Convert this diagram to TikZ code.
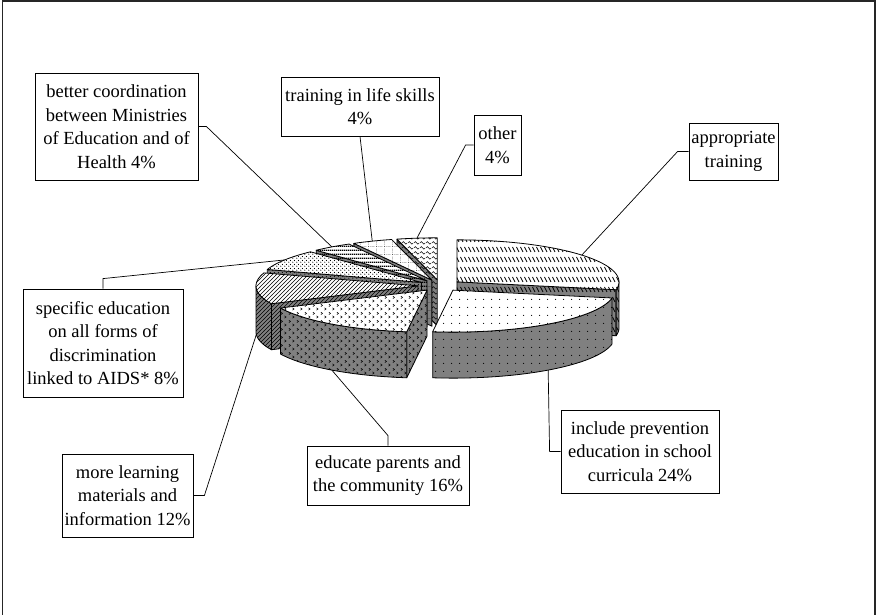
\documentclass[tikz,border=0pt]{standalone}
\usepackage{fontspec}
\setmainfont{Liberation Serif}
\usetikzlibrary{patterns}
\definecolor{piegray}{RGB}{128,128,128}

\pgfdeclarepatternformonly{atdash}{\pgfqpoint{-1pt}{-1pt}}{\pgfqpoint{5pt}{11pt}}{\pgfqpoint{4pt}{10pt}}{%
  \pgfsetlinewidth{0.7pt}%
  \pgfpathmoveto{\pgfqpoint{0.5pt}{8pt}}\pgfpathlineto{\pgfqpoint{3pt}{3pt}}%
  \pgfusepath{stroke}}
\pgfdeclarepatternformonly{ipdots}{\pgfqpoint{0pt}{0pt}}{\pgfqpoint{8pt}{8pt}}{\pgfqpoint{8pt}{8pt}}{%
  \pgfpathcircle{\pgfqpoint{4pt}{4pt}}{0.65pt}\pgfusepath{fill}}
\pgfdeclarepatternformonly{epchev}{\pgfqpoint{0pt}{0pt}}{\pgfqpoint{8pt}{8pt}}{\pgfqpoint{8pt}{8pt}}{%
  \pgfsetlinewidth{0.6pt}%
  \pgfpathmoveto{\pgfqpoint{1pt}{7.5pt}}\pgfpathlineto{\pgfqpoint{2.8pt}{6.2pt}}\pgfpathlineto{\pgfqpoint{1pt}{4.9pt}}%
  \pgfpathmoveto{\pgfqpoint{5pt}{3.5pt}}\pgfpathlineto{\pgfqpoint{6.8pt}{2.2pt}}\pgfpathlineto{\pgfqpoint{5pt}{0.9pt}}%
  \pgfusepath{stroke}}
\pgfdeclarepatternformonly{mldiag}{\pgfqpoint{-1pt}{-1pt}}{\pgfqpoint{5pt}{5pt}}{\pgfqpoint{4pt}{4pt}}{%
  \pgfsetlinewidth{0.7pt}%
  \pgfpathmoveto{\pgfqpoint{0pt}{0pt}}\pgfpathlineto{\pgfqpoint{4.1pt}{4.1pt}}%
  \pgfusepath{stroke}}
\pgfdeclarepatternformonly{sedots}{\pgfqpoint{0pt}{0pt}}{\pgfqpoint{4pt}{4pt}}{\pgfqpoint{4pt}{4pt}}{%
  \pgfpathcircle{\pgfqpoint{1pt}{1pt}}{0.75pt}\pgfpathcircle{\pgfqpoint{3pt}{3pt}}{0.75pt}\pgfusepath{fill}}
\pgfdeclarepatternformonly{bcstripes}{\pgfqpoint{0pt}{0pt}}{\pgfqpoint{2pt}{4pt}}{\pgfqpoint{2pt}{4pt}}{%
  \pgfpathrectangle{\pgfqpoint{0pt}{0pt}}{\pgfqpoint{2pt}{1.8pt}}\pgfusepath{fill}}
\pgfdeclarepatternformonly{tlgrid}{\pgfqpoint{0pt}{0pt}}{\pgfqpoint{8pt}{8pt}}{\pgfqpoint{8pt}{8pt}}{%
  \pgfsetlinewidth{0.4pt}\pgfsetdash{{1pt}{1pt}}{0pt}%
  \pgfpathmoveto{\pgfqpoint{0pt}{0.5pt}}\pgfpathlineto{\pgfqpoint{8pt}{0.5pt}}%
  \pgfpathmoveto{\pgfqpoint{0.5pt}{0pt}}\pgfpathlineto{\pgfqpoint{0.5pt}{8pt}}\pgfusepath{stroke}}
\pgfdeclarepatternformonly{otwave}{\pgfqpoint{0pt}{0pt}}{\pgfqpoint{6pt}{5pt}}{\pgfqpoint{6pt}{5pt}}{%
  \pgfsetlinewidth{0.6pt}%
  \pgfpathmoveto{\pgfqpoint{0pt}{2.5pt}}%
  \pgfpathcurveto{\pgfqpoint{1pt}{4.5pt}}{\pgfqpoint{2pt}{4.5pt}}{\pgfqpoint{3pt}{2.5pt}}%
  \pgfpathcurveto{\pgfqpoint{4pt}{0.5pt}}{\pgfqpoint{5pt}{0.5pt}}{\pgfqpoint{6pt}{2.5pt}}%
  \pgfusepath{stroke}}

% pie model (pixel units, y downward)
\def\pcx{440}\def\pcy{285.5}\def\prx{162}\def\pry{42}\def\pdep{46}\def\pex{0.136}

% #1 upper angle, #2 lower angle, #3 top pattern, #4 side pattern
\newcommand\pieslice[4]{%
  \pgfmathsetmacro\slm{(#1+#2)/2}%
  \pgfmathsetmacro\slox{\pcx+\pex*\prx*cos(\slm)}%
  \pgfmathsetmacro\sloy{\pcy-\pex*\pry*sin(\slm)}%
  \pgfmathtruncatemacro\slva{cos(#1)<-0.001}%
  \pgfmathtruncatemacro\slvb{cos(#2)>0.001}%
  \pgfmathsetmacro\slta{max(#2,-180)}%
  \pgfmathsetmacro\sltb{min(#1,0)}%
  \pgfmathtruncatemacro\slvo{\slta<\sltb}%
  \begin{scope}[shift={(\slox,\sloy)}]
    \ifnum\slva=1
      \path[sideface=#4] (0,0) -- ({\prx*cos(#1)},{-\pry*sin(#1)}) -- ++(0,\pdep) -- (0,\pdep) -- cycle;
    \fi
    \ifnum\slvb=1
      \path[sideface=#4] (0,0) -- ({\prx*cos(#2)},{-\pry*sin(#2)}) -- ++(0,\pdep) -- (0,\pdep) -- cycle;
    \fi
    \ifnum\slvo=1
      \path[sideface=#4] plot[domain=\slta:\sltb,samples=40] ({\prx*cos(\x)},{-\pry*sin(\x)})
        -- plot[domain=\sltb:\slta,samples=40] ({\prx*cos(\x)},{-\pry*sin(\x)+\pdep}) -- cycle;
    \fi
    \path[topface=#3] (0,0) -- plot[domain=#1:#2,samples=50] ({\prx*cos(\x)},{-\pry*sin(\x)}) -- cycle;
  \end{scope}}

% #1 name, #2 slice mid angle, #3 0=top rim / 1=bottom rim
\newcommand\piept[3]{%
  \pgfmathsetmacro\ptx{\pcx+\pex*\prx*cos(#2)+\prx*cos(#2)}%
  \pgfmathsetmacro\pty{\pcy-\pex*\pry*sin(#2)-\pry*sin(#2)+#3*\pdep}%
  \coordinate (#1) at (\ptx,\pty);}

\begin{document}
\begin{tikzpicture}[x=1pt,y=-1pt,
  topface/.style={preaction={fill=white}, pattern=#1, pattern color=black, draw=black, line width=0.8pt, line join=round},
  sideface/.style={preaction={fill=piegray}, pattern=#1, pattern color=black, draw=black, line width=0.8pt, line join=round},
  lbl/.style={draw=black, line width=0.8pt, fill=white, align=center, inner sep=0pt,
    font=\fontsize{18.5}{23.5}\selectfont},
  conn/.style={draw=black, line width=0.7pt}]
\useasboundingbox (0,0) rectangle (876,615);

% frame
\draw[line width=1.6pt, black!85] (2.5,615) -- (2.5,0.8) -- (875,0.8) -- (875,615);

% pie slices, back to front
\pieslice{-255.6}{-270}{otwave}{otwave}
\pieslice{-241.2}{-255.6}{tlgrid}{tlgrid}
\pieslice{-226.8}{-241.2}{bcstripes}{bcstripes}
\pieslice{-198}{-226.8}{sedots}{sedots}
\pieslice{-154.8}{-198}{mldiag}{mldiag}
\pieslice{-97.2}{-154.8}{epchev}{epchev}
\pieslice{90}{-10.8}{atdash}{atdash}
\pieslice{-10.8}{-97.2}{ipdots}{ipdots}

% connector end points on the pie
\piept{pbc}{-234}{0}
\piept{ptl}{-248.4}{0}
\piept{pot}{-262.8}{0}
\piept{pat}{39.6}{0}
\piept{pse}{-212.4}{0}
\piept{pml}{-176.4}{1}
\piept{pep}{-126}{1}
\piept{pip}{-54}{1}

% labels
\node[lbl, minimum width=163pt, minimum height=107pt] (bc) at (116.5,126.5)
  {better coordination\\between Ministries\\of Education and of\\Health 4\%};
\node[lbl, minimum width=158pt, minimum height=59pt] (tl) at (360,106.5)
  {training in life skills\\4\%};
\node[lbl, minimum width=47pt, minimum height=60pt] (ot) at (497.5,145)
  {other\\4\%};
\node[lbl, minimum width=89pt, minimum height=57pt] (at) at (733.5,151.5)
  {appropriate\\training};
\node[lbl, minimum width=160pt, minimum height=108pt] (se) at (103,343)
  {specific education\\on all forms of\\discrimination\\linked to AIDS* 8\%};
\node[lbl, minimum width=131pt, minimum height=83pt] (ml) at (127.5,495.5)
  {more learning\\materials and\\information 12\%};
\node[lbl, minimum width=162pt, minimum height=59pt] (ep) at (388,475.5)
  {educate parents and\\the community 16\%};
\node[lbl, minimum width=158pt, minimum height=83pt] (ip) at (640,451.5)
  {include prevention\\education in school\\curricula 24\%};

% connectors
\draw[conn] (bc.east) -- ++(8,0) -- (pbc);
\draw[conn] (tl.south) -- (ptl);
\draw[conn] (ot.west) -- ++(-8,0) -- (pot);
\draw[conn] (at.west) -- ++(-11,0) -- (pat);
\draw[conn] (se.north) -- ++(0,-10) -- (pse);
\draw[conn] (ml.east) -- ++(11,0) -- (pml);
\draw[conn] (ep.north) -- ++(0,-10) -- (pep);
\draw[conn] (ip.west) -- ++(-11,0) -- (pip);
\end{tikzpicture}
\end{document}
